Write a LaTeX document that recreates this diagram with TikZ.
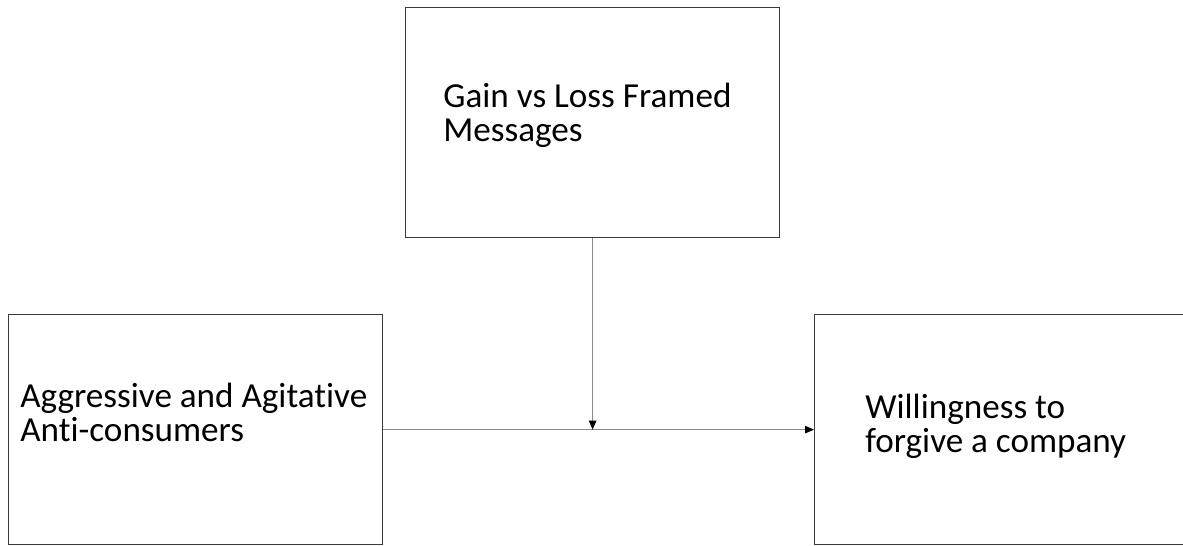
\documentclass[tikz,border=0pt]{standalone}
\usepackage{fontspec}
\setmainfont{Carlito}[Ligatures={NoCommon}]
\usepackage{tikz}
\usetikzlibrary{arrows.meta,calc}
\definecolor{boxgray}{HTML}{3A3A3A}
\definecolor{linegray}{HTML}{8A8A8A}

\begin{document}
\begin{tikzpicture}[x=0.02cm,y=-0.02cm,
    box/.style={draw=boxgray,line width=0.75pt,anchor=north west,minimum width=7.48cm,minimum height=4.6cm,inner sep=0pt},
    boxtext/.style={anchor=base west,align=left,inner sep=0pt,font=\fontsize{20}{19.4}\selectfont},
    link/.style={draw=linegray,line width=0.6pt,-{Triangle[length=0.18cm,width=0.15cm,color=black,fill=black]}}]
    \useasboundingbox (0,0) rectangle (1183,546);
    \node[box] (msg) at (405,7) {};
    \node[box] (agg) at (8,314) {};
    \node[box] (will) at (814,314) {};
    \node[boxtext] (msgtext) at (443,142) {Gain vs Loss Framed\\Messages};
    \node[boxtext] (aggtext) at (20,442) {Aggressive and Agitative\\Anti-consumers};
    \node[boxtext] (willtext) at (865,453) {Willingness to\\forgive a company};
    \coordinate (mid) at (msg.south |- agg.east);
    \draw[link] (agg.east) -- (will.west);
    \draw[link] (msg.south) -- (mid);
  \end{tikzpicture}
\end{document}
